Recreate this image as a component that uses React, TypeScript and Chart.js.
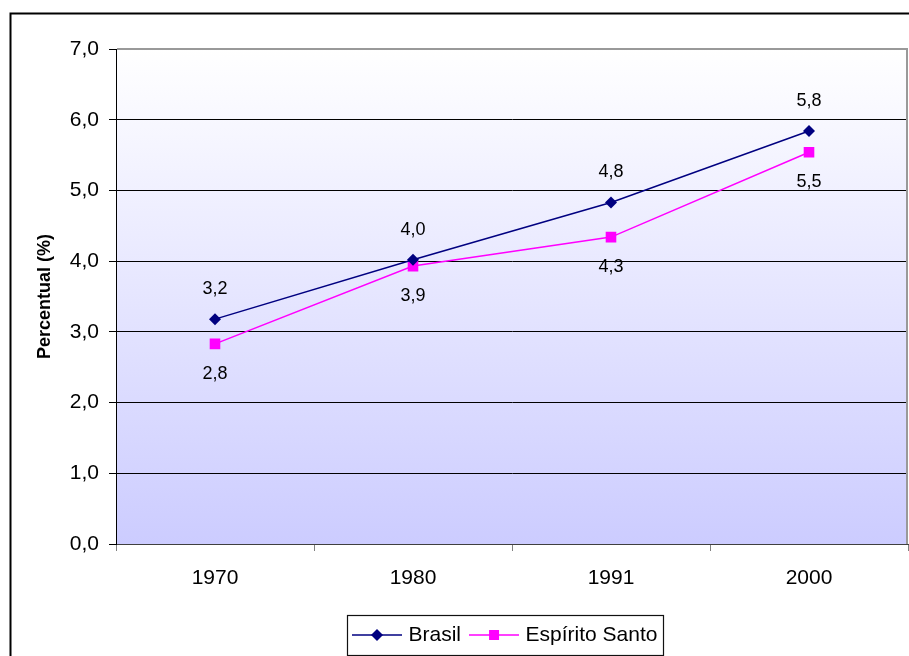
import React, { useEffect, useRef } from 'react';
import { Chart, registerables } from 'chart.js';

Chart.register(...registerables);

const categories = ['1970', '1980', '1991', '2000'];
const brasil = [3.18, 4.02, 4.83, 5.84];
const espiritoSanto = [2.83, 3.93, 4.34, 5.54];
const yTickValues = [0, 1, 2, 3, 4, 5, 6, 7];
const seriesNames = ['Brasil', 'Espírito Santo'];
const seriesColors = ['#000080', '#FF00FF'];

const FONT = '"Liberation Sans", Arial, sans-serif';
const fmt = (v: number) => v.toFixed(1).replace('.', ',');

function makeLegendSample(color: string, kind: 'diamond' | 'square'): HTMLCanvasElement {
  const c = document.createElement('canvas');
  c.width = 50;
  c.height = 16;
  const g = c.getContext('2d')!;
  g.strokeStyle = color;
  g.lineWidth = 1.5;
  g.beginPath();
  g.moveTo(0, 8);
  g.lineTo(50, 8);
  g.stroke();
  g.fillStyle = color;
  g.beginPath();
  if (kind === 'diamond') {
    g.moveTo(25, 2);
    g.lineTo(31, 8);
    g.lineTo(25, 14);
    g.lineTo(19, 8);
    g.closePath();
  } else {
    g.rect(20, 3, 10, 10);
  }
  g.fill();
  return c;
}

const backgroundPlugin = {
  id: 'bgGradient',
  beforeDraw(chart: any) {
    const { ctx, chartArea } = chart;
    const { left, top, right, bottom } = chartArea;
    ctx.save();
    const grad = ctx.createLinearGradient(0, top, 0, bottom);
    grad.addColorStop(0, '#ffffff');
    grad.addColorStop(1, '#ccccff');
    ctx.fillStyle = grad;
    ctx.fillRect(left, top, right - left, bottom - top);
    ctx.strokeStyle = '#000';
    ctx.lineWidth = 2;
    ctx.strokeRect(10.5, 13.5, chart.width + 50, chart.height + 50);
    ctx.restore();
  },
};

const framePlugin = {
  id: 'plotFrame',
  beforeDatasetsDraw(chart: any) {
    const { ctx, chartArea } = chart;
    const { left, top, right, bottom } = chartArea;
    ctx.save();
    ctx.strokeStyle = '#999999';
    ctx.lineWidth = 2;
    ctx.beginPath();
    ctx.moveTo(left + 1, top);
    ctx.lineTo(right - 1, top);
    ctx.lineTo(right - 1, bottom);
    ctx.stroke();
    ctx.restore();
  },
};

const dataLabelPlugin = {
  id: 'dataLabels',
  afterDatasetsDraw(chart: any) {
    const { ctx } = chart;
    ctx.save();
    ctx.font = `18px ${FONT}`;
    ctx.fillStyle = '#000';
    ctx.textAlign = 'center';
    ctx.textBaseline = 'middle';
    chart.data.datasets.forEach((ds: any, i: number) => {
      const meta = chart.getDatasetMeta(i);
      const off = i === 0 ? -30 : 30;
      meta.data.forEach((p: any, j: number) => {
        ctx.fillText(fmt(ds.data[j]), p.x, p.y + off);
      });
    });
    ctx.restore();
  },
};

const legendPlacePlugin = {
  id: 'legendPlace',
  afterLayout(chart: any) {
    const lg = chart.legend;
    if (!lg) return;
    const dx = 344 - lg.left;
    lg.left += dx;
    lg.right += dx;
    const dy = 612.5 - lg.top;
    lg.top += dy;
    lg.bottom += dy;
  },
  afterDraw(chart: any) {
    const lg = chart.legend;
    if (!lg || !lg.legendHitBoxes || !lg.legendHitBoxes.length) return;
    const hb = lg.legendHitBoxes;
    const first = hb[0];
    const last = hb[hb.length - 1];
    const x0 = Math.round(first.left - 9) + 0.5;
    const x1 = Math.round(last.left + last.width + 6) + 0.5;
    const y0 = Math.round(first.top - 9.5) + 0.5;
    const y1 = Math.round(first.top + first.height + 9.5) + 0.5;
    const { ctx } = chart;
    ctx.save();
    ctx.strokeStyle = '#111';
    ctx.lineWidth = 1.2;
    ctx.strokeRect(x0, y0, x1 - x0, y1 - y0);
    ctx.restore();
  },
};

export default function App() {
  const ref = useRef<HTMLCanvasElement | null>(null);

  useEffect(() => {
    if (!ref.current) return;
    Chart.defaults.font.family = FONT;
    const samples = [makeLegendSample(seriesColors[0], 'diamond'), makeLegendSample(seriesColors[1], 'square')];
    const chart = new Chart(ref.current, {
      type: 'line',
      data: {
        labels: categories,
        datasets: [
          {
            label: seriesNames[0],
            data: brasil,
            borderColor: seriesColors[0],
            backgroundColor: seriesColors[0],
            borderWidth: 1.5,
            pointStyle: 'rectRot',
            pointRadius: 6,
            pointBorderWidth: 0,
            tension: 0,
            fill: false,
          },
          {
            label: seriesNames[1],
            data: espiritoSanto,
            borderColor: seriesColors[1],
            backgroundColor: seriesColors[1],
            borderWidth: 1.5,
            pointStyle: 'rect',
            pointRadius: 7.5,
            pointBorderWidth: 0,
            tension: 0,
            fill: false,
          },
        ],
      },
      options: {
        responsive: false,
        animation: false,
        devicePixelRatio: 1,
        layout: { autoPadding: false, padding: { top: 49, right: 1, bottom: 0, left: 0 } },
        scales: {
          x: {
            type: 'category',
            offset: true,
            grid: {
              offset: true,
              drawOnChartArea: false,
              drawTicks: true,
              tickLength: 7,
              color: '#808080',
            },
            border: { color: '#404040', width: 1 },
            ticks: { font: { size: 21 }, color: '#000', padding: 15 },
            afterFit: (s: any) => {
              s.height = 72;
              s.paddingLeft = 0;
              s.paddingRight = 0;
            },
          },
          y: {
            min: 0,
            max: 7,
            afterBuildTicks: (s: any) => {
              s.ticks = yTickValues.map((v) => ({ value: v }));
            },
            ticks: {
              stepSize: 1,
              font: { size: 21 },
              color: '#000',
              padding: 10,
              callback: (v: any) => fmt(Number(v)),
            },
            grid: { color: '#000', lineWidth: 1, tickLength: 7 },
            border: { color: '#000', width: 1 },
            title: {
              display: true,
              text: 'Percentual (%)',
              font: { size: 18, weight: 'bold' },
              color: '#000',
              padding: { top: 34, bottom: 0 },
            },
            afterFit: (s: any) => {
              s.width = 116;
            },
          },
        },
        plugins: {
          tooltip: { enabled: false },
          legend: {
            display: true,
            position: 'bottom',
            align: 'start',
            maxHeight: 40,
            labels: {
              usePointStyle: true,
              pointStyleWidth: 42,
              boxHeight: 12,
              padding: 12,
              color: '#000',
              font: { size: 21 },
              generateLabels: (ch: any) => {
                const items = (Chart.defaults.plugins.legend.labels as any).generateLabels(ch);
                items.forEach((it: any, i: number) => {
                  it.pointStyle = samples[i];
                  it.fontColor = '#000';
                });
                return items;
              },
            },
          },
        },
      } as any,
      plugins: [backgroundPlugin, framePlugin, dataLabelPlugin, legendPlacePlugin],
    });
    return () => chart.destroy();
  }, []);

  return (
    <div style={{ position: 'fixed', left: 0, top: 0, width: 909, height: 656, overflow: 'hidden', background: '#fff' }}>
      <canvas ref={ref} width={909} height={656} style={{ display: 'block' }} />
    </div>
  );
}
